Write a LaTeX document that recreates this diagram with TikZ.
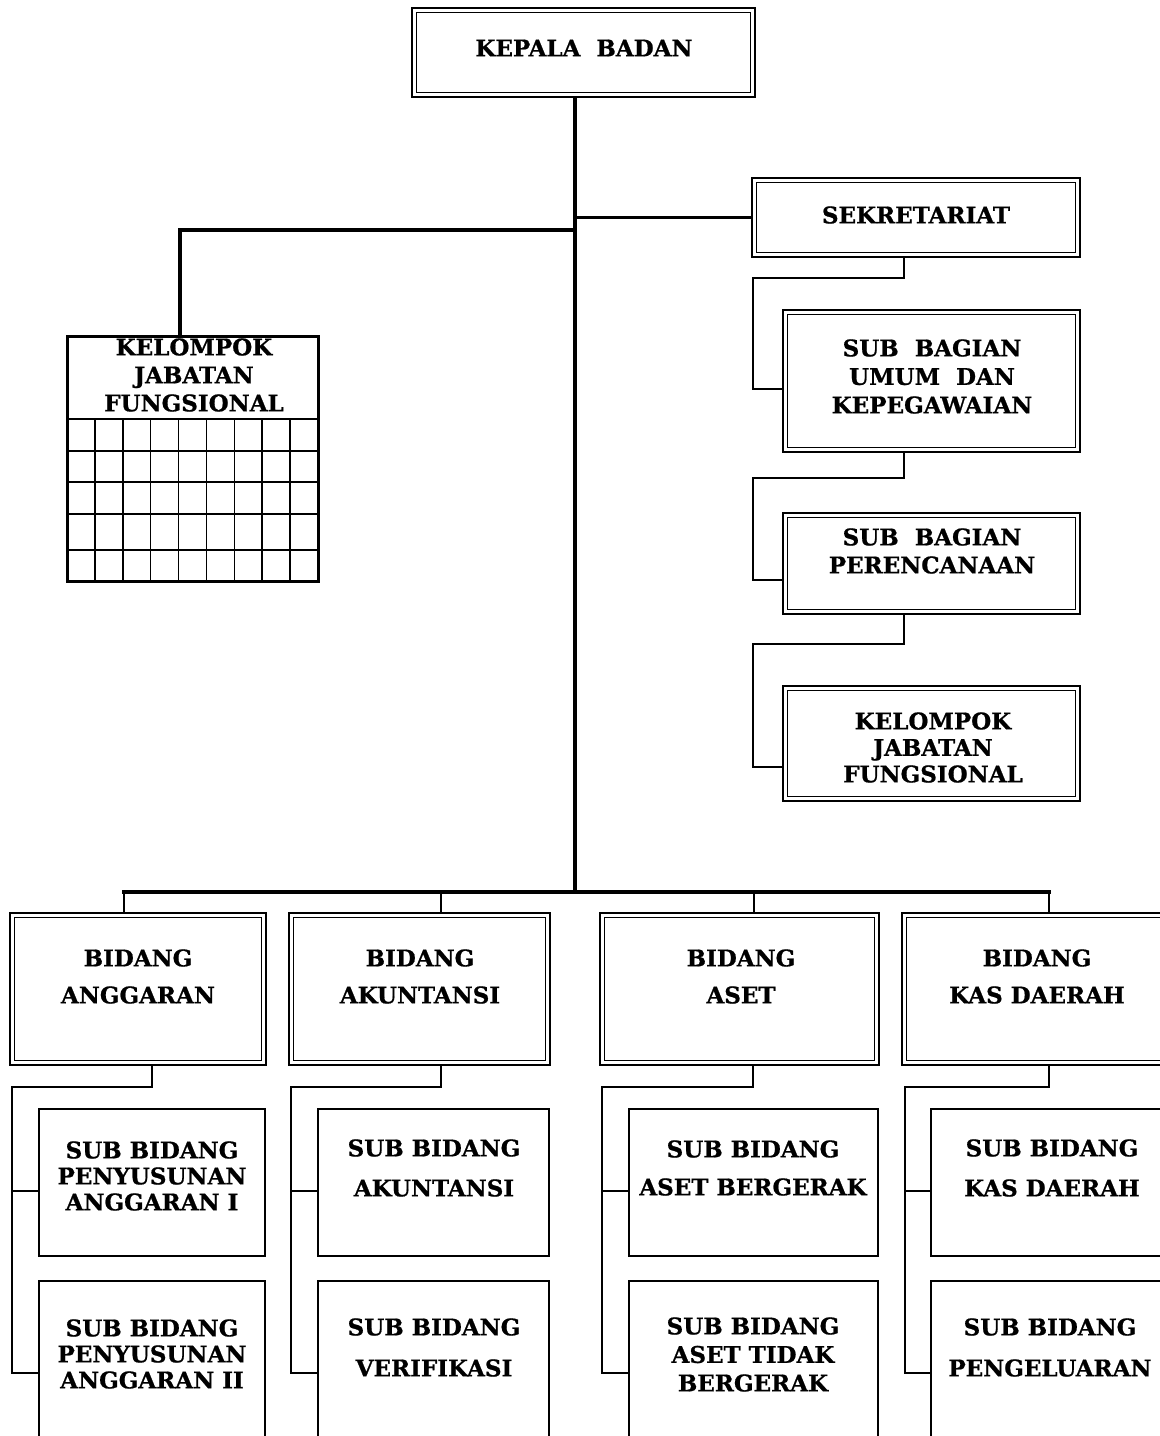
\documentclass[tikz,border=0pt]{standalone}
\usepackage{fontspec}
\setmainfont{DejaVu Serif}[BoldFeatures={FakeBold=0.8}]
\begin{document}
\begin{tikzpicture}[x=1pt,y=-1pt,
  sz/.style 2 args={minimum width=#1pt, minimum height=#2pt},
  dbox/.style={draw, rectangle, line width=2.8pt, inner sep=0pt, outer sep=0pt},
  sbox/.style={draw, rectangle, line width=2.4pt, inner sep=0pt, outer sep=0pt},
  gbox/.style={draw, rectangle, line width=3pt, inner sep=0pt, outer sep=0pt},
  txt/.style={font=\bfseries\fontsize{23}{#1}\selectfont, align=center, inner sep=0pt},
  trunk/.style={line width=3.2pt},
  busline/.style={line width=4.5pt, line cap=rect},
  dropline/.style={line width=2.6pt},
  chain/.style={line width=1.8pt},
  subline/.style={line width=2pt},
  gridline/.style={line width=1.5pt}]

\useasboundingbox (0,0) rectangle (1160,1436);
\fill[white] (0,0) rectangle (1160,1436);
\clip (0,0) rectangle (1160,1436);

% ---- head and secretariat ----
\node[dbox, sz={343}{89}] (kb) at (583.5,52.5) {};
\node[txt=28] (tkb) at (584,48) {KEPALA\ \ BADAN};

\node[dbox, sz={328}{79}] (sek) at (916,217.5) {};
\node[txt=28] (tsek) at (916,215) {SEKRETARIAT};

\node[dbox, sz={297}{142}] (sbu) at (931.5,381) {};
\node[txt=28.5] (tsbu) at (932,376.5) {SUB\ \ BAGIAN\\UMUM\ \ DAN\\KEPEGAWAIAN};

\node[dbox, sz={297}{101}] (sbp) at (931.5,563.5) {};
\node[txt=28] (tsbp) at (932,551) {SUB\ \ BAGIAN\\PERENCANAAN};

\node[dbox, sz={297}{115}] (kjf2) at (931.5,743.5) {};
\node[txt=26.5] (tkjf2) at (933,747.5) {KELOMPOK\\JABATAN\\FUNGSIONAL};

% ---- functional group with grid ----
\node[gbox, sz={251}{245}] (kjf) at (192.5,458.5) {};
\foreach \gy in {419,451,482,514,550}
  \draw[gridline] (67,\gy) -- (318,\gy);
\foreach \i in {1,...,8}
  \draw[gridline] ({67+\i*27.89},419) -- ({67+\i*27.89},581);
\node[txt=28] (tkjf) at (194,375) {KELOMPOK\\JABATAN\\FUNGSIONAL};

% ---- divisions ----
\node[dbox, sz={256}{152}] (bA) at (138,989) {};
\node[dbox, sz={261}{152}] (bK) at (419.5,989) {};
\node[dbox, sz={279}{152}] (bS) at (739.5,989) {};
\node[dbox, sz={270}{152}] (bD) at (1037,989) {};
\node[txt=37] (tbA) at (138,976.5) {BIDANG\\ANGGARAN};
\node[txt=37] (tbK) at (420,976.5) {BIDANG\\AKUNTANSI};
\node[txt=37] (tbS) at (741,976.5) {BIDANG\\ASET};
\node[txt=37] (tbD) at (1037,976.5) {BIDANG\\KAS DAERAH};

% ---- sub divisions ----
\node[sbox, sz={226}{147}] (sA1) at (152,1182.5) {};
\node[sbox, sz={226}{200}] (sA2) at (152,1381) {};
\node[sbox, sz={231}{147}] (sK1) at (433.5,1182.5) {};
\node[sbox, sz={231}{200}] (sK2) at (433.5,1381) {};
\node[sbox, sz={249}{147}] (sS1) at (753.5,1182.5) {};
\node[sbox, sz={249}{200}] (sS2) at (753.5,1381) {};
\node[sbox, sz={238}{147}] (sD1) at (1050,1182.5) {};
\node[sbox, sz={238}{200}] (sD2) at (1050,1381) {};

\node[txt=26] (tsA1) at (152,1176) {SUB BIDANG\\PENYUSUNAN\\ANGGARAN I};
\node[txt=26] (tsA2) at (152,1354) {SUB BIDANG\\PENYUSUNAN\\ANGGARAN II};
\node[txt=40] (tsK1) at (434,1168) {SUB BIDANG\\AKUNTANSI};
\node[txt=41] (tsK2) at (434,1347.5) {SUB BIDANG\\VERIFIKASI};
\node[txt=38] (tsS1) at (753,1168) {SUB BIDANG\\ASET BERGERAK};
\node[txt=28.5] (tsS2) at (753,1354.5) {SUB BIDANG\\ASET TIDAK\\BERGERAK};
\node[txt=40] (tsD1) at (1052,1168) {SUB BIDANG\\KAS DAERAH};
\node[txt=41] (tsD2) at (1050,1347.5) {SUB BIDANG\\PENGELUARAN};

% inner rules of the double-framed boxes
\foreach \n in {kb,sek,sbu,sbp,kjf2,bA,bK,bS,bD}
  \draw[line width=1.3pt] ([shift={(4.5,4.5)}]\n.north west) rectangle ([shift={(-4.5,-4.5)}]\n.south east);

% ---- main trunk and branches ----
\coordinate (bus) at (575,892);
\coordinate (lb) at (180,230);
\draw[trunk] (kb.south -| bus) -- (bus);
\draw[trunk] (sek.west -| bus) -- (sek.west);
\draw[trunk] (lb -| bus) -- (lb) -- (lb |- kjf.north);

\coordinate (d1) at (124,892);
\coordinate (d2) at (441,892);
\coordinate (d3) at (754,892);
\coordinate (d4) at (1049,892);
\draw[busline] (d1) -- (d4);
\draw[dropline] (d1) -- (d1 |- bA.north);
\draw[dropline] (d2) -- (d2 |- bK.north);
\draw[dropline] (d3) -- (d3 |- bS.north);
\draw[dropline] (d4) -- (d4 |- bD.north);

% ---- secretariat chain ----
\foreach \p/\q/\ya/\yb in {sek/sbu/278/389, sbu/sbp/478/580, sbp/kjf2/644/767}{
  \coordinate (r\q) at (904,\ya);
  \coordinate (l\q) at (753,\ya);
  \coordinate (e\q) at (753,\yb);
  \draw[chain] (\p.south -| r\q) -- (r\q) -- (l\q) -- (e\q) -- (e\q -| \q.west);
}

% ---- division to sub-division links ----
\foreach \c/\dx/\lx in {A/152/12, K/441/291, S/753/602, D/1049/905}{
  \coordinate (top\c) at (\dx,1087);
  \coordinate (bend\c) at (\lx,1087);
  \coordinate (mid\c) at (\lx,1191);
  \coordinate (low\c) at (\lx,1373);
  \draw[subline] (b\c.south -| top\c) -- (top\c) -- (bend\c) -- (low\c) -- (low\c -| s\c2.west);
  \draw[subline] (mid\c) -- (mid\c -| s\c1.west);
}
\end{tikzpicture}
\end{document}
